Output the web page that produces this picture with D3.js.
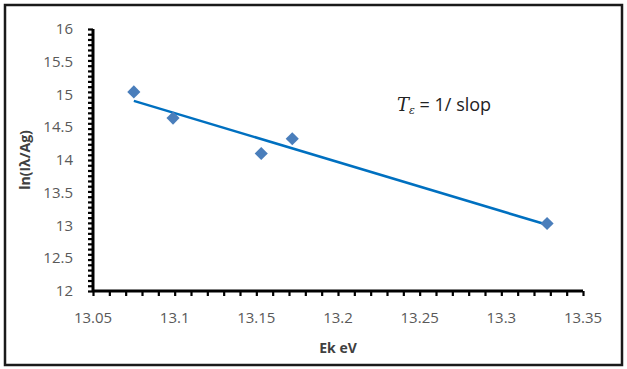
<!DOCTYPE html>
<html>
<head>
<meta charset="utf-8">
<script src="https://cdn.jsdelivr.net/npm/d3@7"></script>
<style>
    body { margin: 0; background: #fff; }
    svg text { font-family: "Open Sans", "Noto Sans", sans-serif; }
</style>
</head>
<body>
<div id="chart"></div>
<script>
// data
var ekValues = [13.075, 13.099, 13.153, 13.172, 13.328];
var lnValues = [15.04, 14.64, 14.10, 14.325, 13.03];
var xTicks = [13.05, 13.1, 13.15, 13.2, 13.25, 13.3, 13.35];
var yTicks = [12, 12.5, 13, 13.5, 14, 14.5, 15, 15.5, 16];

var width = 627, height = 369;
var margin = { left: 93, right: 44, top: 29, bottom: 78 };

var svg = d3.select("#chart")
    .append("svg")
    .attr("width", width)
    .attr("height", height);

// outer frame
svg.append("rect")
    .attr("x", 5)
    .attr("y", 5)
    .attr("width", 617)
    .attr("height", 360)
    .style("fill", "#fff")
    .style("stroke", "#1a1a1a")
    .style("stroke-width", 2.5);

var x = d3.scaleLinear()
    .domain([13.05, 13.35])
    .range([margin.left, width - margin.right]);
var y = d3.scaleLinear()
    .domain([12, 16])
    .range([height - margin.bottom, margin.top]);

// minor ticks
var xMinor = d3.range(0, 31).map(function (i) { return 13.05 + i * 0.01; });
var yMinor = d3.range(0, 51).map(function (i) { return 12 + i * 0.08; });

svg.append("g")
    .attr("transform", "translate(0," + y(12) + ")")
    .call(d3.axisBottom(x).tickValues(xMinor).tickSize(5).tickFormat(""))
    .call(function (g) {
        g.select(".domain").attr("stroke", "#000").attr("stroke-width", 3)
            .attr("d", "M" + x(13.05) + ",0H" + x(13.35));
        g.selectAll(".tick line").attr("stroke", "#000").attr("stroke-width", 2.2);
    });

svg.append("g")
    .attr("transform", "translate(" + x(13.05) + ",0)")
    .call(d3.axisLeft(y).tickValues(yMinor).tickSize(5).tickFormat(""))
    .call(function (g) {
        g.select(".domain").attr("stroke", "#000").attr("stroke-width", 3)
            .attr("d", "M0," + y(16) + "V" + y(12));
        g.selectAll(".tick line").attr("stroke", "#000").attr("stroke-width", 2.2);
    });

// tick labels
svg.append("g")
    .selectAll("text")
    .data(xTicks)
    .enter()
    .append("text")
    .attr("x", function (d) { return x(d); })
    .attr("y", 323)
    .attr("text-anchor", "middle")
    .style("font-size", "15px")
    .style("fill", "#595959")
    .text(function (d) { return d; });

svg.append("g")
    .selectAll("text")
    .data(yTicks)
    .enter()
    .append("text")
    .attr("x", 73)
    .attr("y", function (d) { return y(d) + 5; })
    .attr("text-anchor", "end")
    .style("font-size", "15px")
    .style("fill", "#595959")
    .text(function (d) { return d; });

// axis titles
svg.append("text")
    .attr("x", 338)
    .attr("y", 353)
    .attr("text-anchor", "middle")
    .style("font-size", "14px")
    .style("font-weight", "bold")
    .style("fill", "#404040")
    .text("Ek eV");

svg.append("text")
    .attr("transform", "translate(30,160) rotate(-90)")
    .attr("text-anchor", "middle")
    .style("font-size", "14px")
    .style("font-weight", "bold")
    .style("fill", "#404040")
    .text("ln(Iλ/Ag)");

// linear trend line
var mx = d3.mean(ekValues), my = d3.mean(lnValues);
var sxy = d3.sum(ekValues, function (d, i) { return (d - mx) * (lnValues[i] - my); });
var sxx = d3.sum(ekValues, function (d) { return (d - mx) * (d - mx); });
var slope = sxy / sxx, icpt = my - slope * mx;
var xEnds = d3.extent(ekValues);

svg.append("line")
    .attr("x1", x(xEnds[0]))
    .attr("y1", y(icpt + slope * xEnds[0]))
    .attr("x2", x(xEnds[1]))
    .attr("y2", y(icpt + slope * xEnds[1]))
    .style("stroke", "#0070c0")
    .style("stroke-width", 2.5);

// markers
svg.append("g")
    .selectAll("path")
    .data(ekValues)
    .enter()
    .append("path")
    .attr("d", d3.symbol().type(d3.symbolDiamond2).size(110))
    .attr("transform", function (d, i) {
        return "translate(" + x(d) + "," + y(lnValues[i]) + ")";
    })
    .style("fill", "#4a7ebb");

// annotation
var note = svg.append("text")
    .attr("x", 397)
    .attr("y", 111)
    .style("font-size", "18px")
    .style("fill", "#222");
note.append("tspan")
    .style("font-family", "'DejaVu Serif', serif")
    .style("font-style", "italic")
    .text("T");
note.append("tspan")
    .attr("dy", 3)
    .style("font-family", "'DejaVu Serif', serif")
    .style("font-style", "italic")
    .style("font-size", "11px")
    .text("ε");
note.append("tspan")
    .attr("dy", -3)
    .text(" = 1/ slop");
</script>
</body>
</html>
